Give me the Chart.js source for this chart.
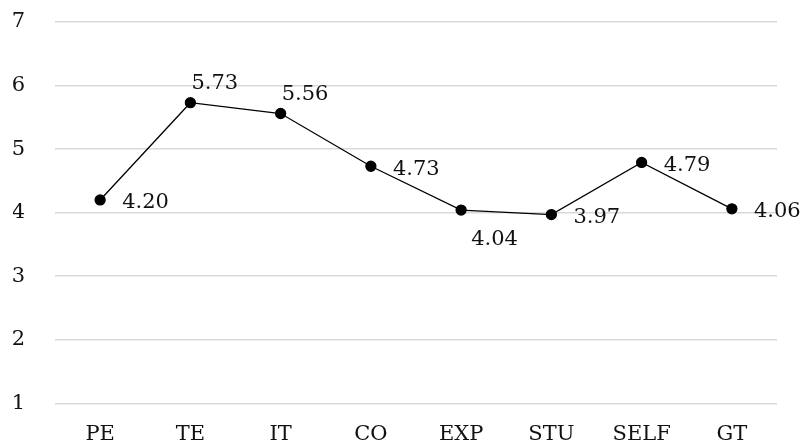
<!DOCTYPE html>
<html>
<head>
<meta charset="utf-8">
<script src="https://cdn.jsdelivr.net/npm/chart.js@4.4.0/dist/chart.umd.min.js"></script>
<style>
  html, body { margin: 0; padding: 0; background: #fff; }
  #wrap { width: 801px; height: 446px; }
</style>
</head>
<body>
<div id="wrap"><canvas id="chart" width="801" height="446"></canvas></div>
<script>
const categories = ["PE", "TE", "IT", "CO", "EXP", "STU", "SELF", "GT"];
const scores = [4.20, 5.73, 5.56, 4.73, 4.04, 3.97, 4.79, 4.06];
const yTicks = [1, 2, 3, 4, 5, 6, 7];
// where each value label sits relative to its point
const labelPlacement = ["right", "above", "above", "right", "below", "right", "right", "right"];

const FONT = "'DejaVu Serif', serif";
const FONT_SIZE = 21;

// draws the value next to each point
const valueLabels = {
  id: "valueLabels",
  afterDatasetsDraw(chart) {
    const ctx = chart.ctx;
    const meta = chart.getDatasetMeta(0);
    ctx.save();
    ctx.font = FONT_SIZE + "px " + FONT;
    ctx.fillStyle = "#111";
    ctx.textAlign = "left";
    ctx.textBaseline = "middle";
    meta.data.forEach((pt, i) => {
      const text = scores[i].toFixed(2);
      let x = pt.x, y = pt.y;
      if (labelPlacement[i] === "right") { x += 22; y += 3; }
      else if (labelPlacement[i] === "above") { x += 1; y -= 19; }
      else { x += 10; y += 29; }
      ctx.fillText(text, x, y);
    });
    ctx.restore();
  }
};

new Chart(document.getElementById("chart"), {
  type: "line",
  data: {
    labels: categories,
    datasets: [{
      data: scores,
      borderColor: "#000",
      borderWidth: 1.3,
      pointRadius: 5,
      pointHoverRadius: 5,
      pointBackgroundColor: "#000",
      pointBorderColor: "#000",
      tension: 0,
      fill: false
    }]
  },
  options: {
    responsive: false,
    animation: false,
    layout: { padding: { left: 13, right: 24, top: 22, bottom: 0 } },
    plugins: {
      legend: { display: false },
      tooltip: { enabled: false }
    },
    scales: {
      x: {
        offset: true,
        grid: { display: false, drawTicks: false },
        border: { display: false },
        afterFit(scale) { scale.height = 42.7; },
        ticks: {
          padding: 19,
          color: "#111",
          font: { family: FONT, size: FONT_SIZE }
        }
      },
      y: {
        min: 1,
        max: 7,
        afterBuildTicks(scale) {
          scale.ticks = yTicks.map(v => ({ value: v }));
        },
        afterFit(scale) {
          scale.width = 42;
          scale.paddingTop = 0;
          scale.paddingBottom = 0;
        },
        grid: { color: "#d9d9d9", lineWidth: 1.5, drawTicks: false },
        border: { display: false },
        ticks: {
          padding: 30,
          color: "#111",
          font: { family: FONT, size: FONT_SIZE }
        }
      }
    }
  },
  plugins: [valueLabels]
});
</script>
</body>
</html>
